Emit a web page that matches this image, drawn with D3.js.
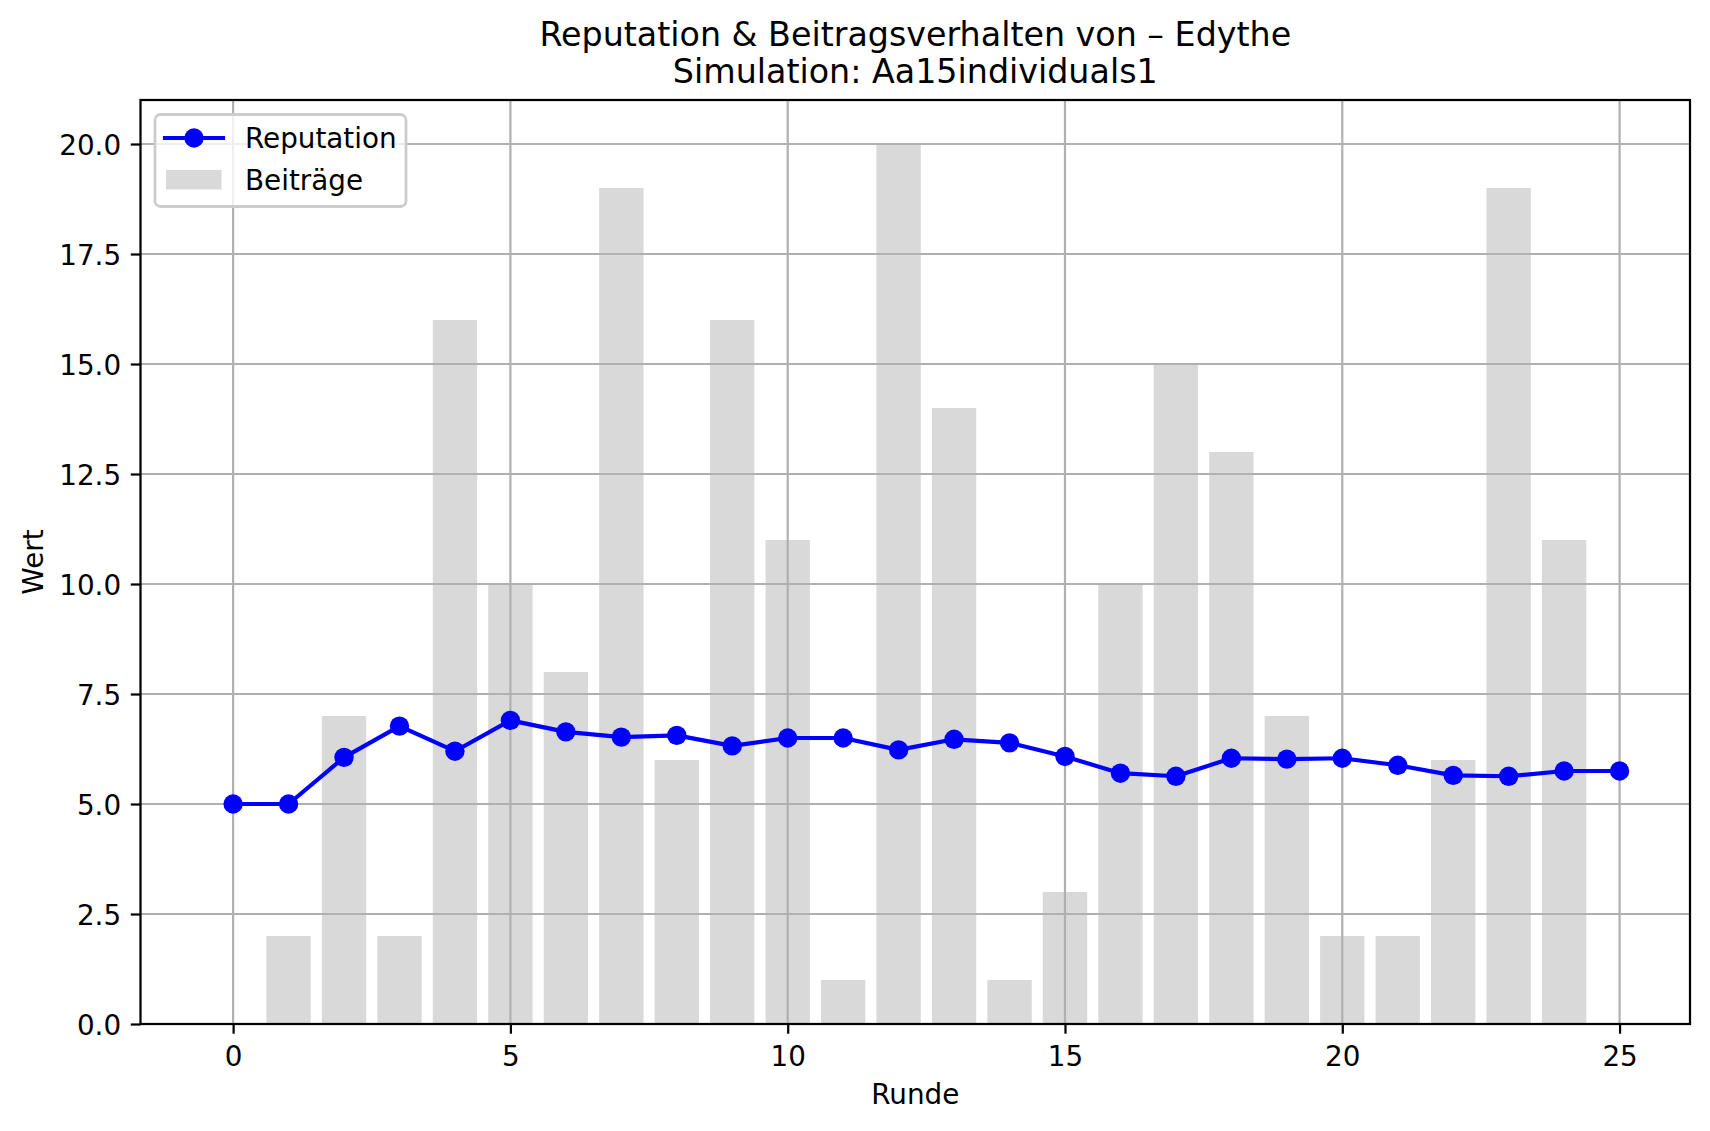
<!DOCTYPE html>
<html>
<head>
<meta charset="utf-8">
<script src="https://cdn.jsdelivr.net/npm/d3@7"></script>
<style>
  html, body { margin: 0; padding: 0; background: #fff; }
  svg { display: block; }
  text { font-family: "DejaVu Sans", sans-serif; fill: #000; }
</style>
</head>
<body>
<svg id="chart" width="1710" height="1131"></svg>
<script>
// ---- data ----
const runden = d3.range(0, 26);               // rounds for reputation line
const reputation = [5.0, 5.0, 6.06, 6.77, 6.20, 6.90, 6.64, 6.52, 6.56, 6.32, 6.50, 6.50, 6.23,
                    6.47, 6.39, 6.08, 5.70, 5.63, 6.04, 6.02, 6.04, 5.88, 5.65, 5.63, 5.75, 5.75];
const beitragRunden = d3.range(0, 25);
const beitraege = [0, 2, 7, 2, 16, 10, 8, 19, 6, 16, 11, 1, 20, 14, 1, 3, 10, 15, 13, 7, 2, 2, 6, 19, 11];
const xTicks = [0, 5, 10, 15, 20, 25];
const yTicks = [0, 2.5, 5, 7.5, 10, 12.5, 15, 17.5, 20];
const titleLines = ["Reputation & Beitragsverhalten von – Edythe", "Simulation: Aa15individuals1"];
const xLabel = "Runde";
const yLabel = "Wert";
const legendLabels = ["Reputation", "Beiträge"];

// ---- layout ----
const W = 1710, H = 1131;
const L = 140.5, R = 1690, T = 100, B = 1024;
const svg = d3.select("#chart");
const fs = 27.8;        // 10pt @ 200dpi
const lw = 2.22;        // 0.8pt
const mr = 9.7;         // marker radius incl. edge

const barW = 0.8;
const xMin = -barW / 2, xMax = 25;
const pad = (xMax - xMin) * 0.05;
const x = d3.scaleLinear().domain([xMin - pad, xMax + pad]).range([L, R]);
const y = d3.scaleLinear().domain([0, 21]).range([B, T]);

// bars
svg.append("g").selectAll("rect").data(beitraege).join("rect")
  .attr("x", (d, i) => x(beitragRunden[i] - barW / 2))
  .attr("width", (d, i) => x(beitragRunden[i] + barW / 2) - x(beitragRunden[i] - barW / 2))
  .attr("y", d => y(d))
  .attr("height", d => y(0) - y(d))
  .attr("fill", "#808080")
  .attr("fill-opacity", 0.3);

// grid
const grid = svg.append("g").attr("stroke", "#b0b0b0").attr("stroke-width", lw);
grid.selectAll("line.v").data(xTicks).join("line").attr("class", "v")
  .attr("x1", d => x(d)).attr("x2", d => x(d)).attr("y1", T).attr("y2", B);
grid.selectAll("line.h").data(yTicks).join("line").attr("class", "h")
  .attr("x1", L).attr("x2", R).attr("y1", d => y(d)).attr("y2", d => y(d));

// line
const line = d3.line().x((d, i) => x(runden[i])).y(d => y(d));
svg.append("path").datum(reputation)
  .attr("d", line).attr("fill", "none").attr("stroke", "#0000ff")
  .attr("stroke-width", 4.17).attr("stroke-linejoin", "round").attr("stroke-linecap", "square");
svg.append("g").selectAll("circle").data(reputation).join("circle")
  .attr("cx", (d, i) => x(runden[i])).attr("cy", d => y(d)).attr("r", mr)
  .attr("fill", "#0000ff");

// axes
const xAxis = d3.axisBottom(x).tickValues(xTicks).tickFormat(d3.format("d"))
  .tickSizeInner(9.7).tickSizeOuter(0).tickPadding(7);
const yAxis = d3.axisLeft(y).tickValues(yTicks).tickFormat(d3.format(".1f"))
  .tickSizeInner(9.7).tickSizeOuter(0).tickPadding(9.7);
const gx = svg.append("g").attr("transform", `translate(0,${B})`).call(xAxis);
const gy = svg.append("g").attr("transform", `translate(${L},0)`).call(yAxis);
[gx, gy].forEach(g => {
  g.select(".domain").remove();
  g.selectAll(".tick line").attr("stroke", "#000").attr("stroke-width", lw);
  g.selectAll(".tick text").attr("font-size", fs).attr("font-family", "DejaVu Sans").attr("fill", "#000");
});
gx.selectAll(".tick text").attr("dy", null).attr("y", 9.7 + 32.5);
gy.selectAll(".tick text").attr("dy", "0.36em");

// spines
svg.append("rect").attr("x", L).attr("y", T).attr("width", R - L).attr("height", B - T)
  .attr("fill", "none").attr("stroke", "#000").attr("stroke-width", lw);

// title
svg.append("g").selectAll("text").data(titleLines).join("text")
  .attr("x", (L + R) / 2).attr("y", (d, i) => 46 + i * 37)
  .attr("text-anchor", "middle").attr("font-size", 33.3).text(d => d);

// axis labels
svg.append("text").attr("x", (L + R) / 2).attr("y", 1104)
  .attr("text-anchor", "middle").attr("font-size", fs).text(xLabel);
svg.append("text").attr("transform", `translate(43,${(T + B) / 2}) rotate(-90)`)
  .attr("text-anchor", "middle").attr("font-size", fs).text(yLabel);

// legend
const lg = svg.append("g");
lg.append("rect").attr("x", 155).attr("y", 114.5).attr("width", 251).attr("height", 92)
  .attr("rx", 5.5).attr("ry", 5.5)
  .attr("fill", "#fff").attr("fill-opacity", 0.8)
  .attr("stroke", "#cccccc").attr("stroke-width", 2.78);
lg.append("line").attr("x1", 165).attr("x2", 223).attr("y1", 138).attr("y2", 138)
  .attr("stroke", "#0000ff").attr("stroke-width", 4.17).attr("stroke-linecap", "square");
lg.append("circle").attr("cx", 194).attr("cy", 138).attr("r", mr).attr("fill", "#0000ff");
lg.append("rect").attr("x", 166).attr("y", 170).attr("width", 55.5).attr("height", 19.5)
  .attr("fill", "#808080").attr("fill-opacity", 0.3);
lg.selectAll("text").data(legendLabels).join("text")
  .attr("x", 245).attr("y", (d, i) => 148 + i * 42)
  .attr("font-size", fs).text(d => d);
</script>
</body>
</html>
